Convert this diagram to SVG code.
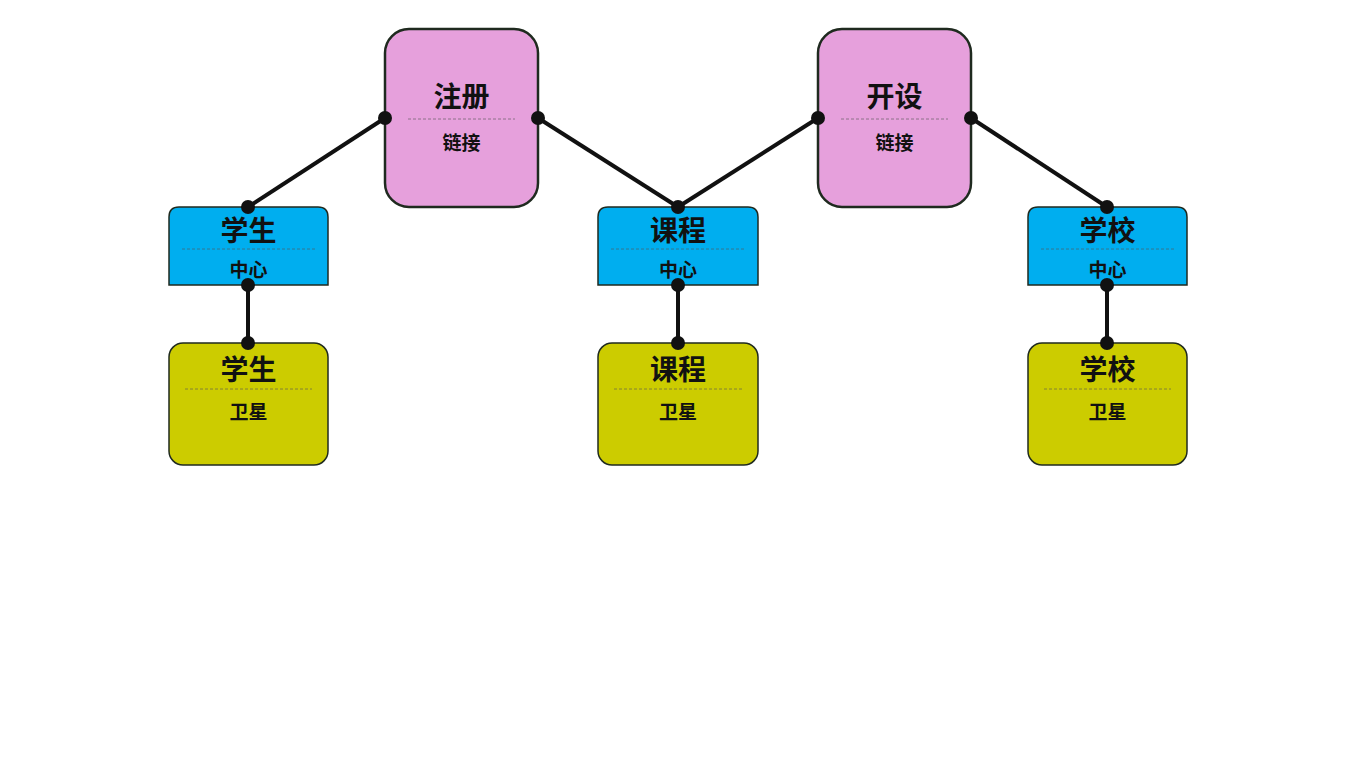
<svg xmlns="http://www.w3.org/2000/svg" width="1357" height="784" viewBox="0 0 1357 784">
<style>
.link{fill:#e6a0dc;stroke:#1f2a1f;stroke-width:2.5}
.hub{fill:#00aeef;stroke:#1f2a1f;stroke-width:1.5}
.sat{fill:#cccc00;stroke:#1f2a1f;stroke-width:1.5}
.div{stroke:#555;stroke-width:1;stroke-dasharray:3 2;fill:none;opacity:0.6}
.t{font-family:"Noto Sans CJK SC","Noto Sans",sans-serif;font-weight:bold;fill:#111;text-anchor:middle}
.big{font-size:28px}
.sm{font-size:19px}
.conn line{stroke:#111;stroke-width:4}
.conn circle{fill:#111}
</style>
<rect width="1357" height="784" fill="#ffffff"/>
<g class="conn">
<line x1="385" y1="118" x2="248" y2="207"/>
<line x1="538" y1="118" x2="678" y2="207"/>
<line x1="818" y1="118" x2="678" y2="207"/>
<line x1="971" y1="118" x2="1107" y2="207"/>
<line x1="248" y1="285" x2="248" y2="343"/>
<line x1="678" y1="285" x2="678" y2="343"/>
<line x1="1107" y1="285" x2="1107" y2="343"/>
</g>
<g id="link-zhuce">
<rect class="link" x="385" y="29" width="153" height="178" rx="24"/>
<text class="t big" x="461.5" y="107">注册</text>
<line class="div" x1="408" y1="119" x2="515" y2="119"/>
<text class="t sm" x="461.5" y="150">链接</text>
</g>
<g id="link-kaishe">
<rect class="link" x="818" y="29" width="153" height="178" rx="24"/>
<text class="t big" x="894.5" y="107">开设</text>
<line class="div" x1="841" y1="119" x2="948" y2="119"/>
<text class="t sm" x="894.5" y="150">链接</text>
</g>
<g id="hub-xuesheng">
<path class="hub" d="M169 285 V217 Q169 207 179 207 H318 Q328 207 328 217 V285 Z"/>
<text class="t big" x="248.5" y="241">学生</text>
<line class="div" x1="182" y1="249" x2="315" y2="249"/>
<text class="t sm" x="248.5" y="277">中心</text>
</g>
<g id="hub-kecheng">
<path class="hub" d="M598 285 V217 Q598 207 608 207 H748 Q758 207 758 217 V285 Z"/>
<text class="t big" x="678" y="241">课程</text>
<line class="div" x1="611" y1="249" x2="745" y2="249"/>
<text class="t sm" x="678" y="277">中心</text>
</g>
<g id="hub-xuexiao">
<path class="hub" d="M1028 285 V217 Q1028 207 1038 207 H1177 Q1187 207 1187 217 V285 Z"/>
<text class="t big" x="1107.5" y="241">学校</text>
<line class="div" x1="1041" y1="249" x2="1174" y2="249"/>
<text class="t sm" x="1107.5" y="277">中心</text>
</g>
<g id="sat-xuesheng">
<rect class="sat" x="169" y="343" width="159" height="122" rx="14"/>
<text class="t big" x="248.5" y="380">学生</text>
<line class="div" x1="185" y1="389" x2="312" y2="389"/>
<text class="t sm" x="248.5" y="419">卫星</text>
</g>
<g id="sat-kecheng">
<rect class="sat" x="598" y="343" width="160" height="122" rx="14"/>
<text class="t big" x="678" y="380">课程</text>
<line class="div" x1="614" y1="389" x2="742" y2="389"/>
<text class="t sm" x="678" y="419">卫星</text>
</g>
<g id="sat-xuexiao">
<rect class="sat" x="1028" y="343" width="159" height="122" rx="14"/>
<text class="t big" x="1107.5" y="380">学校</text>
<line class="div" x1="1044" y1="389" x2="1171" y2="389"/>
<text class="t sm" x="1107.5" y="419">卫星</text>
</g>
<g class="conn">
<circle cx="385" cy="118" r="7"/>
<circle cx="538" cy="118" r="7"/>
<circle cx="818" cy="118" r="7"/>
<circle cx="971" cy="118" r="7"/>
<circle cx="248" cy="207" r="7"/>
<circle cx="678" cy="207" r="7"/>
<circle cx="1107" cy="207" r="7"/>
<circle cx="248" cy="285" r="7"/>
<circle cx="678" cy="285" r="7"/>
<circle cx="1107" cy="285" r="7"/>
<circle cx="248" cy="343" r="7"/>
<circle cx="678" cy="343" r="7"/>
<circle cx="1107" cy="343" r="7"/>
</g>
</svg>
